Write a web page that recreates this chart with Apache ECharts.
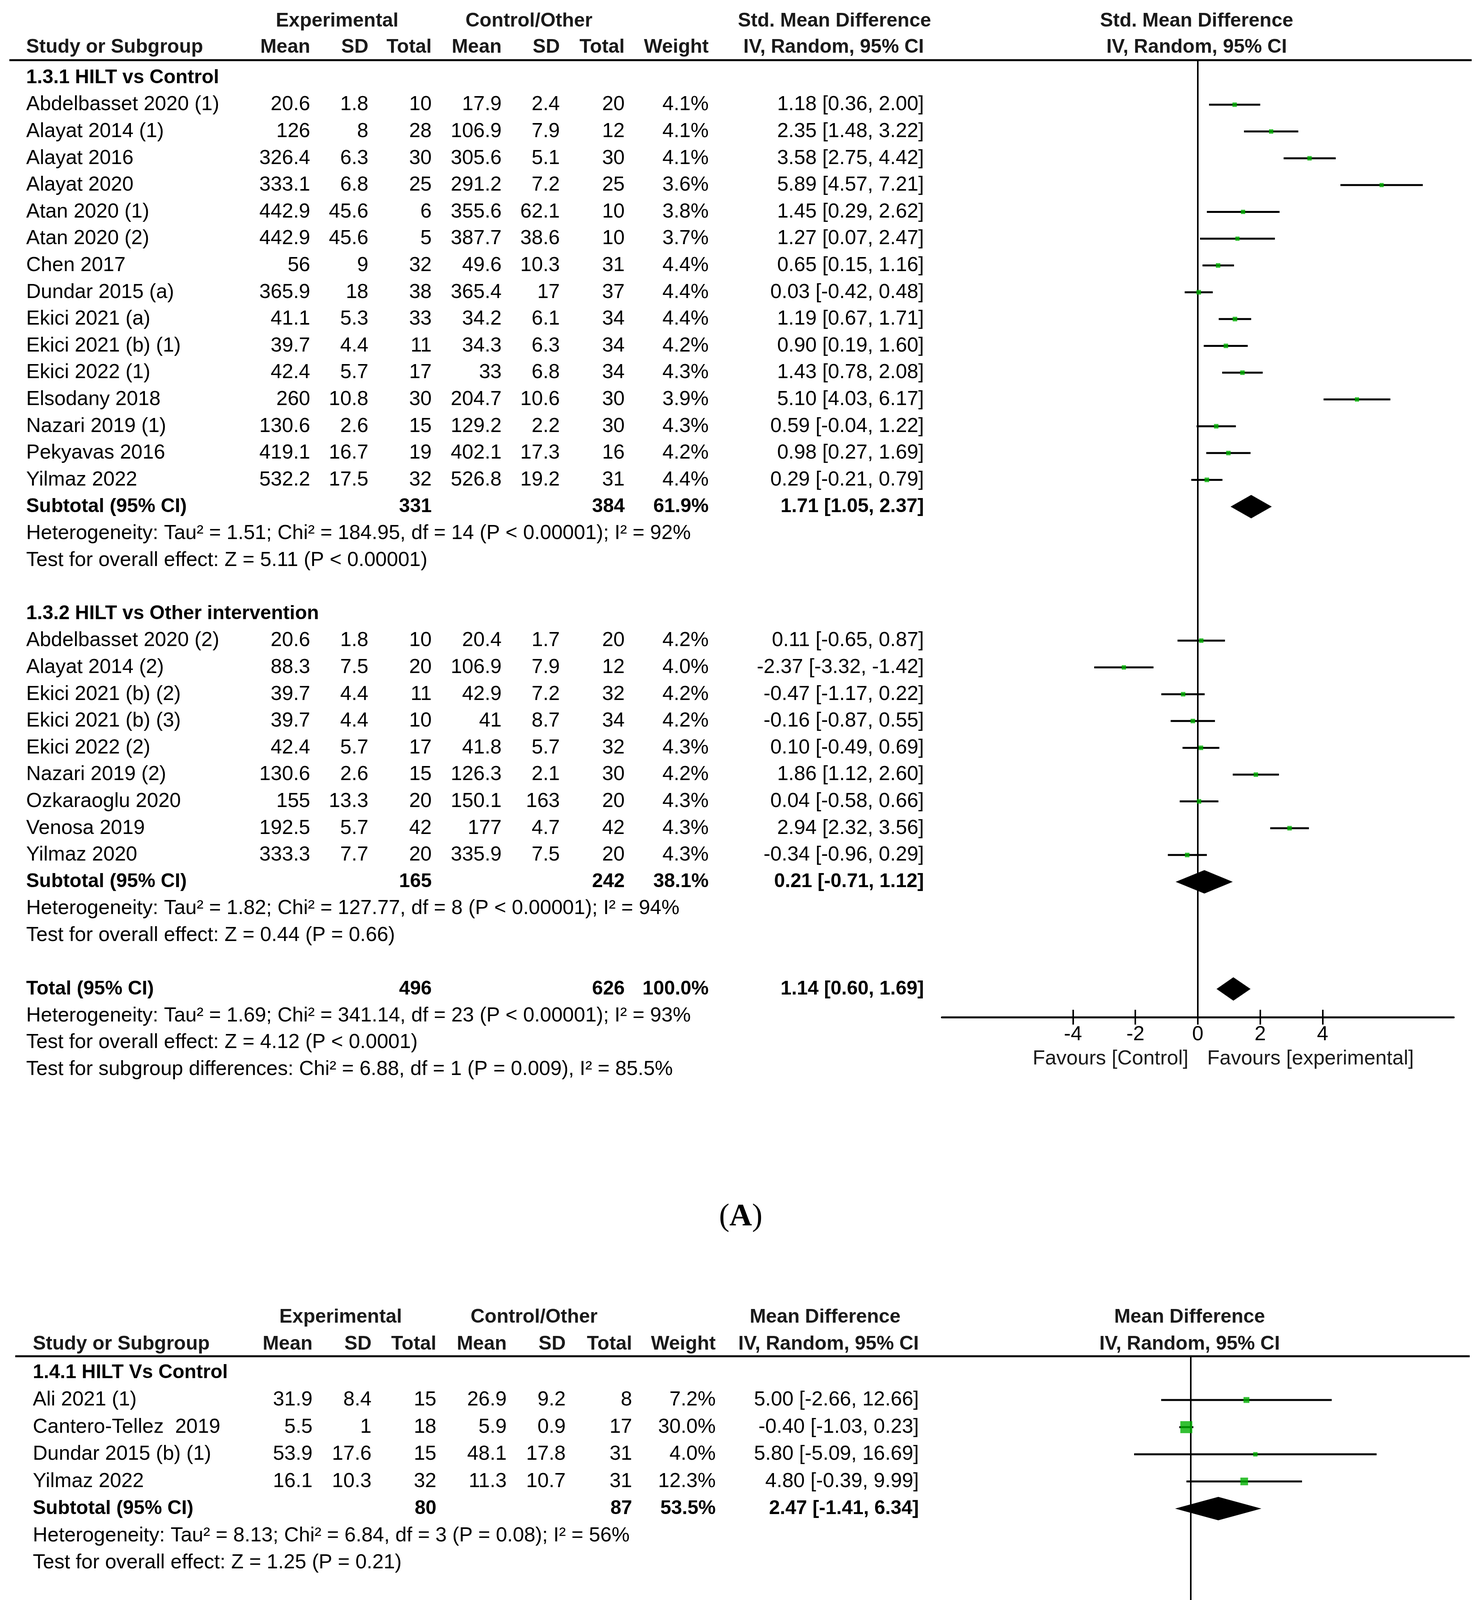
<!DOCTYPE html>
<html><head><meta charset="utf-8">
<script src="https://cdn.jsdelivr.net/npm/echarts@6/dist/echarts.min.js"></script>
<style>html,body{margin:0;padding:0;background:#fff}#c{width:3796px;height:5391px}</style>
</head><body><div id="c"></div>
<script>
// ================= Panel A data =================
const A_effect = 'Std. Mean Difference';
const A_method = 'IV, Random, 95% CI';
const A_groupTitles = ['1.3.1 HILT vs Control', '1.3.2 HILT vs Other intervention'];
const A_groupSizes = [15, 9];
const A_study = ['Abdelbasset 2020 (1)','Alayat 2014 (1)','Alayat 2016','Alayat 2020','Atan 2020 (1)','Atan 2020 (2)','Chen 2017','Dundar 2015 (a)','Ekici 2021 (a)','Ekici 2021 (b) (1)','Ekici 2022 (1)','Elsodany 2018','Nazari 2019 (1)','Pekyavas 2016','Yilmaz 2022',
  'Abdelbasset 2020 (2)','Alayat 2014 (2)','Ekici 2021 (b) (2)','Ekici 2021 (b) (3)','Ekici 2022 (2)','Nazari 2019 (2)','Ozkaraoglu 2020','Venosa 2019','Yilmaz 2020'];
const A_expMean = [20.6,126,326.4,333.1,442.9,442.9,56,365.9,41.1,39.7,42.4,260,130.6,419.1,532.2, 20.6,88.3,39.7,39.7,42.4,130.6,155,192.5,333.3];
const A_expSD   = [1.8,8,6.3,6.8,45.6,45.6,9,18,5.3,4.4,5.7,10.8,2.6,16.7,17.5, 1.8,7.5,4.4,4.4,5.7,2.6,13.3,5.7,7.7];
const A_expN    = [10,28,30,25,6,5,32,38,33,11,17,30,15,19,32, 10,20,11,10,17,15,20,42,20];
const A_ctlMean = [17.9,106.9,305.6,291.2,355.6,387.7,49.6,365.4,34.2,34.3,33,204.7,129.2,402.1,526.8, 20.4,106.9,42.9,41,41.8,126.3,150.1,177,335.9];
const A_ctlSD   = [2.4,7.9,5.1,7.2,62.1,38.6,10.3,17,6.1,6.3,6.8,10.6,2.2,17.3,19.2, 1.7,7.9,7.2,8.7,5.7,2.1,163,4.7,7.5];
const A_ctlN    = [20,12,30,25,10,10,31,37,34,34,34,30,30,16,31, 20,12,32,34,32,30,20,42,20];
const A_weight  = [4.1,4.1,4.1,3.6,3.8,3.7,4.4,4.4,4.4,4.2,4.3,3.9,4.3,4.2,4.4, 4.2,4.0,4.2,4.2,4.3,4.2,4.3,4.3,4.3];
const A_est = [1.18,2.35,3.58,5.89,1.45,1.27,0.65,0.03,1.19,0.90,1.43,5.10,0.59,0.98,0.29, 0.11,-2.37,-0.47,-0.16,0.10,1.86,0.04,2.94,-0.34];
const A_lo  = [0.36,1.48,2.75,4.57,0.29,0.07,0.15,-0.42,0.67,0.19,0.78,4.03,-0.04,0.27,-0.21, -0.65,-3.32,-1.17,-0.87,-0.49,1.12,-0.58,2.32,-0.96];
const A_hi  = [2.00,3.22,4.42,7.21,2.62,2.47,1.16,0.48,1.71,1.60,2.08,6.17,1.22,1.69,0.79, 0.87,-1.42,0.22,0.55,0.69,2.60,0.66,3.56,0.29];
const A_subExpN = [331, 165];
const A_subCtlN = [384, 242];
const A_subWeight = [61.9, 38.1];
const A_subEst = [1.71, 0.21];
const A_subLo = [1.05, -0.71];
const A_subHi = [2.37, 1.12];
const A_subHet = ['Heterogeneity: Tau² = 1.51; Chi² = 184.95, df = 14 (P < 0.00001); I² = 92%',
                  'Heterogeneity: Tau² = 1.82; Chi² = 127.77, df = 8 (P < 0.00001); I² = 94%'];
const A_subTest = ['Test for overall effect: Z = 5.11 (P < 0.00001)', 'Test for overall effect: Z = 0.44 (P = 0.66)'];
const A_totalN = [496, 626];
const A_totalWeight = 100.0;
const A_totalCI = [1.14, 0.60, 1.69];
const A_totalNotes = ['Heterogeneity: Tau² = 1.69; Chi² = 341.14, df = 23 (P < 0.00001); I² = 93%',
                      'Test for overall effect: Z = 4.12 (P < 0.0001)',
                      'Test for subgroup differences: Chi² = 6.88, df = 1 (P = 0.009), I² = 85.5%'];
const A_ticks = [-4, -2, 0, 2, 4];
const A_range = [-8.2, 8.2];
const A_favours = ['Favours [Control]', 'Favours [experimental]'];

// ================= Panel B data =================
const B_effect = 'Mean Difference';
const B_method = 'IV, Random, 95% CI';
const B_groupTitles = ['1.4.1 HILT Vs Control', '1.4.2 HILT vs Other intervention'];
const B_groupSizes = [4, 5];
const B_study = ['Ali 2021 (1)','Cantero-Tellez  2019','Dundar 2015 (b) (1)','Yilmaz 2022',
  'Ali 2021 (2)','Dundar 2015 (b) (2)','Fekri 2019','Kaydok 2020','Salli 2016'];
const B_expMean = [31.9,5.5,53.9,16.1, 28.8,53.9,22.2,27.3,21.9];
const B_expSD   = [8.4,1,17.6,10.3, 8.5,17.6,8.6,9.1,13.2];
const B_expN    = [15,18,15,32, 15,15,15,29,31];
const B_ctlMean = [26.9,5.9,48.1,11.3, 26.9,53.6,19.3,22.5,24.5];
const B_ctlSD   = [9.2,0.9,17.8,10.7, 9.2,14.8,9.7,5.6,12.1];
const B_ctlN    = [8,17,31,31, 7,30,15,30,34];
const B_weight  = [7.2,30.0,4.0,12.3, 6.6,4.4,9.0,16.7,9.8];
const B_est = [5.00,-0.40,5.80,4.80, 1.90,0.30,2.90,4.80,-2.60];
const B_lo  = [-2.66,-1.03,-5.09,-0.39, -6.16,-10.06,-3.66,0.93,-8.78];
const B_hi  = [12.66,0.23,16.69,9.99, 9.96,10.66,9.46,8.67,3.58];
const B_subExpN = [80, 105];
const B_subCtlN = [87, 116];
const B_subWeight = [53.5, 46.5];
const B_subEst = [2.47, 2.41];
const B_subLo = [-1.41, -0.35];
const B_subHi = [6.34, 5.18];
const B_subHet = ['Heterogeneity: Tau² = 8.13; Chi² = 6.84, df = 3 (P = 0.08); I² = 56%',
                  'Heterogeneity: Tau² = 0.49; Chi² = 4.19, df = 4 (P = 0.38); I² = 4%'];
const B_subTest = ['Test for overall effect: Z = 1.25 (P = 0.21)', 'Test for overall effect: Z = 1.71 (P = 0.09)'];
const B_totalN = [185, 203];
const B_totalWeight = 100.0;
const B_totalCI = [2.01, -0.34, 4.35];
const B_totalNotes = ['Heterogeneity: Tau² = 4.65; Chi² = 14.95, df = 8 (P = 0.06); I² = 46%',
                      'Test for overall effect: Z = 1.68 (P = 0.09)',
                      'Test for subgroup differences: Chi² = 0.00, df = 1 (P = 0.98), I² = 0%'];
const B_ticks = [-20, -10, 0, 10, 20];
const B_range = [-23, 23];
const B_favours = ['Favours [control]', 'Favours [experimental]'];

// ================= layout / style =================
const FONT = '"Liberation Sans", Arial, Helvetica, sans-serif';
const FS = 52;      // regular text
const FSB = 50;     // bold text
const GREEN = '#00b000';
const HEAD = '#1a1a1a';

const layoutA = {
  gridLeft: 2411, gridWidth: 1310, top: 154, axisY: 2604, row1Y: 268, rowH: 68.6,
  headR: [-2.12, -1.14], lineX: [24, 3767],
  cols: {name: 67, expMean: 794, expSD: 943, expN: 1105, ctlMean: 1284, ctlSD: 1433, ctlN: 1599, weight: 1814, ci: 2365},
  expHeadX: 863, ctlHeadX: 1354, effHeadX: 2136, plotHeadX: 3063,
  panelLabel: 'A', labelX: 1896, labelY: 3116
};
const layoutB = {
  gridLeft: 2392.5, gridWidth: 1311, top: 3472, axisY: 4911, row1Y: 3584, rowH: 69.5,
  headR: [-2.05, -1.05], lineX: [39, 3762],
  cols: {name: 84, expMean: 800, expSD: 951, expN: 1117, ctlMean: 1297, ctlSD: 1448, ctlN: 1618, weight: 1832, ci: 2352},
  expHeadX: 872, ctlHeadX: 1367, effHeadX: 2112, plotHeadX: 3045,
  panelLabel: 'B', labelX: 1898, labelY: 5338
};

const panelA = {effect: A_effect, method: A_method, groupTitles: A_groupTitles, groupSizes: A_groupSizes, study: A_study,
  expMean: A_expMean, expSD: A_expSD, expN: A_expN, ctlMean: A_ctlMean, ctlSD: A_ctlSD, ctlN: A_ctlN, weight: A_weight,
  est: A_est, lo: A_lo, hi: A_hi, subExpN: A_subExpN, subCtlN: A_subCtlN, subWeight: A_subWeight, subEst: A_subEst,
  subLo: A_subLo, subHi: A_subHi, subHet: A_subHet, subTest: A_subTest, totalN: A_totalN, totalWeight: A_totalWeight,
  totalCI: A_totalCI, totalNotes: A_totalNotes, ticks: A_ticks, range: A_range, favours: A_favours};
const panelB = {effect: B_effect, method: B_method, groupTitles: B_groupTitles, groupSizes: B_groupSizes, study: B_study,
  expMean: B_expMean, expSD: B_expSD, expN: B_expN, ctlMean: B_ctlMean, ctlSD: B_ctlSD, ctlN: B_ctlN, weight: B_weight,
  est: B_est, lo: B_lo, hi: B_hi, subExpN: B_subExpN, subCtlN: B_subCtlN, subWeight: B_subWeight, subEst: B_subEst,
  subLo: B_subLo, subHi: B_subHi, subHet: B_subHet, subTest: B_subTest, totalN: B_totalN, totalWeight: B_totalWeight,
  totalCI: B_totalCI, totalNotes: B_totalNotes, ticks: B_ticks, range: B_range, favours: B_favours};

const pct = w => w.toFixed(1) + '%';
const ciText = (e, l, h) => e.toFixed(2) + ' [' + l.toFixed(2) + ', ' + h.toFixed(2) + ']';

function buildRows(D, L) {
  const C = L.cols;
  const rows = [];
  const studyRow = [];
  const sumRow = [];
  rows.push({r: L.headR[0], cells: [['Experimental', L.expHeadX, 'center', 1, HEAD], ['Control/Other', L.ctlHeadX, 'center', 1, HEAD],
    [D.effect, L.effHeadX, 'center', 1, HEAD], [D.effect, L.plotHeadX, 'center', 1, HEAD]]});
  rows.push({r: L.headR[1], cells: [['Study or Subgroup', C.name, 'left', 1, HEAD], ['Mean', C.expMean, 'right', 1, HEAD],
    ['SD', C.expSD, 'right', 1, HEAD], ['Total', C.expN, 'right', 1, HEAD], ['Mean', C.ctlMean, 'right', 1, HEAD],
    ['SD', C.ctlSD, 'right', 1, HEAD], ['Total', C.ctlN, 'right', 1, HEAD], ['Weight', C.weight, 'right', 1, HEAD],
    [D.method, C.ci, 'right', 1, HEAD], [D.method, L.plotHeadX, 'center', 1, HEAD]]});
  let r = 0, k = 0;
  D.groupSizes.forEach((n, g) => {
    rows.push({r: r, cells: [[D.groupTitles[g], C.name, 'left', 1]]}); r++;
    for (let j = 0; j < n; j++, k++, r++) {
      studyRow.push(r);
      rows.push({r: r, cells: [[D.study[k], C.name, 'left', 0], [String(D.expMean[k]), C.expMean, 'right', 0],
        [String(D.expSD[k]), C.expSD, 'right', 0], [String(D.expN[k]), C.expN, 'right', 0],
        [String(D.ctlMean[k]), C.ctlMean, 'right', 0], [String(D.ctlSD[k]), C.ctlSD, 'right', 0],
        [String(D.ctlN[k]), C.ctlN, 'right', 0], [pct(D.weight[k]), C.weight, 'right', 0],
        [ciText(D.est[k], D.lo[k], D.hi[k]), C.ci, 'right', 0]]});
    }
    sumRow.push(r);
    rows.push({r: r, cells: [['Subtotal (95% CI)', C.name, 'left', 1], [String(D.subExpN[g]), C.expN, 'right', 1],
      [String(D.subCtlN[g]), C.ctlN, 'right', 1], [pct(D.subWeight[g]), C.weight, 'right', 1],
      [ciText(D.subEst[g], D.subLo[g], D.subHi[g]), C.ci, 'right', 1]]}); r++;
    rows.push({r: r, cells: [[D.subHet[g], C.name, 'left', 0]]}); r++;
    rows.push({r: r, cells: [[D.subTest[g], C.name, 'left', 0]]}); r++;
    r++;
  });
  sumRow.push(r);
  rows.push({r: r, cells: [['Total (95% CI)', C.name, 'left', 1], [String(D.totalN[0]), C.expN, 'right', 1],
    [String(D.totalN[1]), C.ctlN, 'right', 1], [pct(D.totalWeight), C.weight, 'right', 1],
    [ciText(D.totalCI[0], D.totalCI[1], D.totalCI[2]), C.ci, 'right', 1]]}); r++;
  D.totalNotes.forEach(t => { rows.push({r: r, cells: [[t, C.name, 'left', 0]]}); r++; });
  const favR = (L.axisY + 107 - L.row1Y) / L.rowH + 1;
  rows.push({r: favR, zero: true, cells: [[D.favours[0], -24, 'right', 0, HEAD], [D.favours[1], 24, 'left', 0, HEAD]]});
  return {rows, studyRow, sumRow};
}

function textEl(x, y, s, align, bold, color) {
  return {type: 'text', x: x, y: y, silent: true,
    style: {text: s, fill: color || '#000', fontSize: bold ? FSB : FS, fontFamily: FONT, fontWeight: bold ? 'bold' : 'normal',
      align: align, verticalAlign: 'middle', textAlign: align, textVerticalAlign: 'middle'}};
}

const grids = [], xAxes = [], yAxes = [], series = [], graphics = [];

[[panelA, layoutA], [panelB, layoutB]].forEach(([D, L], gi) => {
  const built = buildRows(D, L);
  const row0Y = L.row1Y - L.rowH;
  const yMin = (L.top - row0Y) / L.rowH;
  const yMax = (L.axisY - row0Y) / L.rowH;
  grids.push({left: L.gridLeft, top: L.top, width: L.gridWidth, height: L.axisY - L.top, containLabel: false});
  const xMain = xAxes.length;
  xAxes.push({gridIndex: gi, type: 'value', min: D.range[0], max: D.range[1], position: 'bottom',
    axisLine: {show: true, onZero: false, lineStyle: {color: '#000', width: 5}},
    axisTick: {show: true, customValues: D.ticks, length: 19, inside: false, lineStyle: {color: '#000', width: 4}},
    axisLabel: {show: true, customValues: D.ticks, margin: 19, fontSize: FS, fontFamily: FONT, color: '#000',
      formatter: v => String(v)},
    splitLine: {show: false}});
  xAxes.push({gridIndex: gi, type: 'value', min: D.range[0], max: D.range[1], position: 'bottom',
    axisLine: {show: false, onZero: false},
    axisTick: {show: true, customValues: D.ticks, length: 19, inside: true, lineStyle: {color: '#000', width: 4}},
    axisLabel: {show: false}, splitLine: {show: false}});
  const yi = yAxes.length;
  yAxes.push({gridIndex: gi, type: 'value', inverse: true, min: yMin, max: yMax, show: false, splitLine: {show: false}});

  // CI whiskers + zero line
  series.push({type: 'custom', xAxisIndex: xMain, yAxisIndex: yi, z: 3, clip: false, silent: true,
    data: D.est.map((e, i) => [D.lo[i], D.hi[i], built.studyRow[i]]),
    encode: {x: [0, 1], y: 2},
    renderItem: (params, api) => {
      const p1 = api.coord([api.value(0), api.value(2)]);
      const p2 = api.coord([api.value(1), api.value(2)]);
      return {type: 'line', shape: {x1: p1[0], y1: p1[1], x2: p2[0], y2: p2[1]}, style: {stroke: '#000', lineWidth: 5}};
    },
    markLine: {silent: true, symbol: ['none', 'none'], label: {show: false}, animation: false,
      lineStyle: {color: '#000', width: 4, type: 'solid'}, data: [{xAxis: 0}]}
  });
  // study squares
  series.push({type: 'scatter', xAxisIndex: xMain, yAxisIndex: yi, z: 5, silent: true, symbol: 'rect',
    data: D.est.map((e, i) => [e, built.studyRow[i]]),
    symbolSize: (v, p) => 5.6 * Math.sqrt(D.weight[p.dataIndex]),
    itemStyle: {color: GREEN}});
  // summary diamonds
  const sumEst = D.subEst.concat([D.totalCI[0]]);
  const sumLo = D.subLo.concat([D.totalCI[1]]);
  const sumHi = D.subHi.concat([D.totalCI[2]]);
  series.push({type: 'custom', xAxisIndex: xMain, yAxisIndex: yi, z: 4, clip: false, silent: true,
    data: sumEst.map((e, i) => [e, sumLo[i], sumHi[i], built.sumRow[i]]),
    encode: {x: [0, 1, 2], y: 3},
    renderItem: (params, api) => {
      const c = api.coord([api.value(0), api.value(3)]);
      const l = api.coord([api.value(1), api.value(3)]);
      const h = api.coord([api.value(2), api.value(3)]);
      const hh = 30;
      return {type: 'polygon', shape: {points: [[l[0], c[1]], [c[0], c[1] - hh], [h[0], c[1]], [c[0], c[1] + hh]]},
        style: {fill: '#000'}};
    }});
  // table text
  const rows = built.rows;
  series.push({type: 'custom', xAxisIndex: xMain, yAxisIndex: yi, z: 10, clip: false, silent: true,
    data: rows.map(rw => [0, rw.r]),
    encode: {x: 0, y: 1},
    renderItem: (params, api) => {
      const rw = rows[params.dataIndex];
      const p = api.coord([0, api.value(1)]);
      return {type: 'group', children: rw.cells.map(c =>
        textEl(rw.zero ? p[0] + c[1] : c[1], p[1], c[0], c[2], c[3], c[4]))};
    }});

  graphics.push({type: 'line', silent: true, shape: {x1: L.lineX[0], y1: L.top, x2: L.lineX[1], y2: L.top},
    style: {stroke: '#000', lineWidth: 5}});
  graphics.push({type: 'text', silent: true, x: L.labelX, y: L.labelY,
    style: {text: '{p|(}{b|' + L.panelLabel + '}{p|)}', align: 'center', verticalAlign: 'middle',
      textAlign: 'center', textVerticalAlign: 'middle',
      rich: {p: {fontFamily: '"Liberation Serif", "Times New Roman", serif', fontSize: 80, fill: '#000'},
             b: {fontFamily: '"Liberation Serif", "Times New Roman", serif', fontSize: 80, fontWeight: 'bold', fill: '#000'}}}});
});

const chart = echarts.init(document.getElementById('c'), null, {renderer: 'canvas'});
chart.setOption({
  backgroundColor: '#fff',
  animation: false,
  grid: grids, xAxis: xAxes, yAxis: yAxes, series: series, graphic: graphics
});
</script>
</body></html>
